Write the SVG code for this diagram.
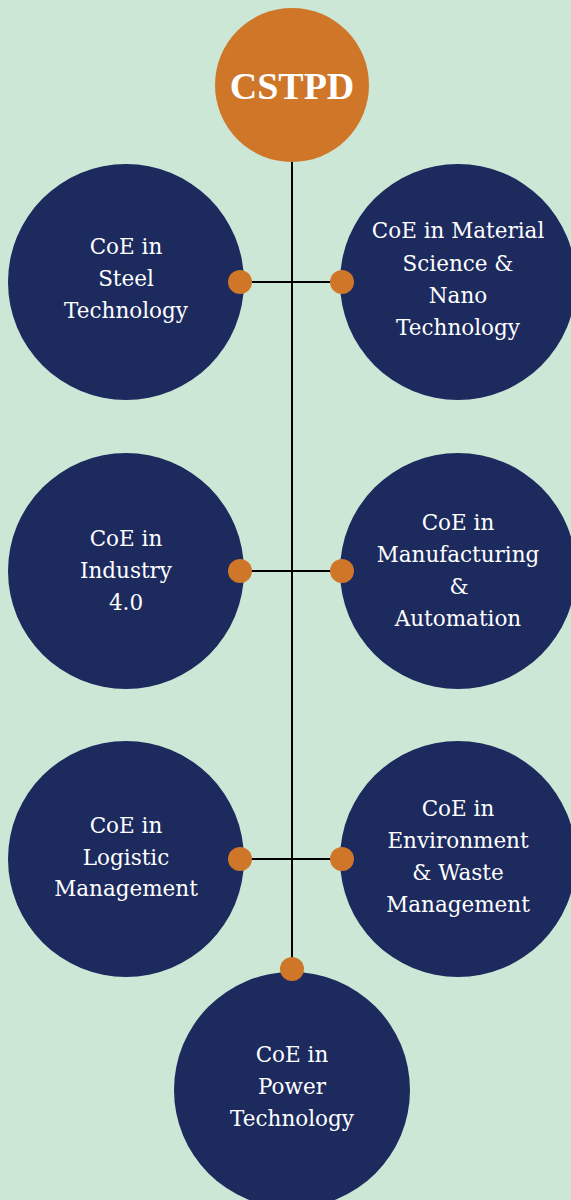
<svg xmlns="http://www.w3.org/2000/svg" width="571" height="1200" viewBox="0 0 571 1200">
<style>
.bg{fill:#cce7d6}
.node{fill:#1c2a5e}
.dot{fill:#cf7629}
.ln{stroke:#000;stroke-width:2;fill:none}
.t{font-family:"DejaVu Serif","Liberation Serif",serif;font-size:21.5px;fill:#fff;text-anchor:middle}
.h{font-family:"Liberation Serif",serif;font-weight:bold;font-size:38px;fill:#fff;text-anchor:middle}
</style>
<rect class="bg" x="0" y="0" width="571" height="1200"/>
<g id="connectors">
<line class="ln" x1="292" y1="160" x2="292" y2="969"/>
<line class="ln" x1="240" y1="282" x2="342" y2="282"/>
<line class="ln" x1="240" y1="571" x2="342" y2="571"/>
<line class="ln" x1="240" y1="859" x2="342" y2="859"/>
</g>
<g id="cstpd">
<circle fill="#cf7629" cx="292" cy="85" r="77"/>
<text class="h" x="292" y="99">CSTPD</text>
</g>
<g id="steel">
<circle class="node" cx="126" cy="282" r="118"/>
<text class="t" x="126"><tspan x="126" y="254">CoE in</tspan><tspan x="126" y="286">Steel</tspan><tspan x="126" y="318">Technology</tspan></text>
<circle class="dot" cx="240" cy="282" r="12"/>
</g>
<g id="material">
<circle class="node" cx="458" cy="282" r="118"/>
<text class="t"><tspan x="458" y="238">CoE in Material</tspan><tspan x="458" y="271">Science &amp;</tspan><tspan x="458" y="303">Nano</tspan><tspan x="458" y="335">Technology</tspan></text>
<circle class="dot" cx="342" cy="282" r="12"/>
</g>
<g id="industry">
<circle class="node" cx="126" cy="571" r="118"/>
<text class="t"><tspan x="126" y="546">CoE in</tspan><tspan x="126" y="578">Industry</tspan><tspan x="126" y="610">4.0</tspan></text>
<circle class="dot" cx="240" cy="571" r="12"/>
</g>
<g id="manufacturing">
<circle class="node" cx="458" cy="571" r="118"/>
<text class="t"><tspan x="458" y="530">CoE in</tspan><tspan x="458" y="562">Manufacturing</tspan><tspan x="459" y="594">&amp;</tspan><tspan x="458" y="626">Automation</tspan></text>
<circle class="dot" cx="342" cy="571" r="12"/>
</g>
<g id="logistic">
<circle class="node" cx="126" cy="859" r="118"/>
<text class="t"><tspan x="126" y="833">CoE in</tspan><tspan x="126" y="865">Logistic</tspan><tspan x="126" y="896">Management</tspan></text>
<circle class="dot" cx="240" cy="859" r="12"/>
</g>
<g id="environment">
<circle class="node" cx="458" cy="859" r="118"/>
<text class="t"><tspan x="458" y="816">CoE in</tspan><tspan x="458" y="848">Environment</tspan><tspan x="458" y="880">&amp; Waste</tspan><tspan x="458" y="912">Management</tspan></text>
<circle class="dot" cx="342" cy="859" r="12"/>
</g>
<g id="power">
<circle class="node" cx="292" cy="1090" r="118"/>
<text class="t"><tspan x="292" y="1062">CoE in</tspan><tspan x="292" y="1094">Power</tspan><tspan x="292" y="1126">Technology</tspan></text>
<circle class="dot" cx="292" cy="969" r="12"/>
</g>
</svg>
